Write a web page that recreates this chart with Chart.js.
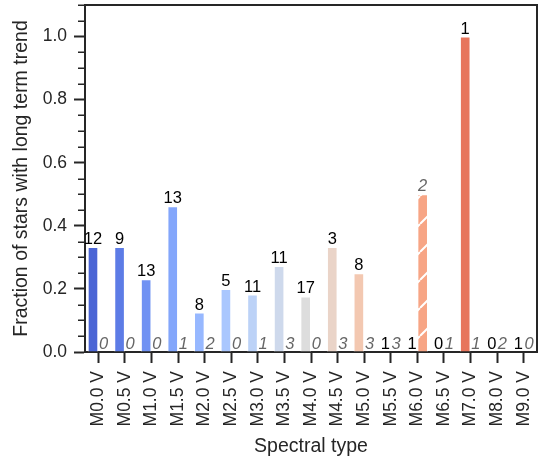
<!DOCTYPE html>
<html>
<head>
<meta charset="utf-8">
<script src="https://cdn.jsdelivr.net/npm/chart.js@4.4.0/dist/chart.umd.min.js"></script>
<style>
  html, body { margin: 0; padding: 0; background: #fff; }
</style>
</head>
<body>
<canvas id="grafico" width="544" height="459"></canvas>
<script>
const tipos = ['M0.0 V', 'M0.5 V', 'M1.0 V', 'M1.5 V', 'M2.0 V', 'M2.5 V', 'M3.0 V', 'M3.5 V', 'M4.0 V',
  'M4.5 V', 'M5.0 V', 'M5.5 V', 'M6.0 V', 'M6.5 V', 'M7.0 V', 'M8.0 V', 'M9.0 V'];
// fraccion con tendencia (barras llenas) y su numero de estrellas
const fraccion = [0.333, 0.333, 0.231, 0.462, 0.125, 0.2, 0.182, 0.273, 0.176, 0.333, 0.25, 0, 0, 0, 1.0, 0, 0];
const conteo = [12, 9, 13, 13, 8, 5, 11, 11, 17, 3, 8, 1, 1, 0, 1, 0, 1];
// segunda serie (barras rayadas, etiquetas grises)
const fraccionRayada = [0, 0, 0, 0, 0, 0, 0, 0, 0, 0, 0, 0, 0.5, 0, 0, 0, 0];
const conteoRayado = [0, 0, 0, 1, 2, 0, 1, 3, 0, 3, 3, 3, 2, 1, 1, 2, 0];
const colores = ['#4b65d5', '#5d7ce6', '#7092f3', '#83a6fb', '#97b8ff', '#aac7fe', '#bcd2f7', '#ced9ec', '#dddddd',
  '#ead4c8', '#f3c8b1', '#f7b89b', '#f7a585', '#f18e70', '#e7755c', '#da5948', '#c83936'];
const yTicks = [0, 0.2, 0.4, 0.6, 0.8, 1.0];
const yMenores = [0.05, 0.1, 0.15, 0.25, 0.3, 0.35, 0.45, 0.5, 0.55, 0.65, 0.7, 0.75, 0.85, 0.9, 0.95, 1.05, 1.1];

const fuente = '"Liberation Sans", Arial, sans-serif';
const tinta = '#262626';

function rayado(color) {
  const c = document.createElement('canvas');
  c.width = 28; c.height = 28;
  const g = c.getContext('2d');
  g.fillStyle = color;
  g.fillRect(0, 0, 28, 28);
  g.strokeStyle = '#fff';
  g.lineWidth = 2;
  g.beginPath();
  for (const k of [-28, 0, 28]) {
    g.moveTo(k, 28);
    g.lineTo(k + 28, 0);
  }
  g.stroke();
  return g.createPattern(c, 'repeat');
}

const etiquetas = {
  id: 'etiquetas',
  afterDatasetsDraw(chart) {
    const ctx = chart.ctx;
    ctx.save();
    ctx.textAlign = 'center';
    ctx.textBaseline = 'alphabetic';
    ctx.font = '16.5px ' + fuente;
    ctx.fillStyle = '#000';
    chart.getDatasetMeta(0).data.forEach((bar, i) => {
      ctx.fillText(conteo[i], bar.x, bar.y - 3);
    });
    ctx.font = 'italic 16.5px ' + fuente;
    ctx.fillStyle = '#666';
    chart.getDatasetMeta(1).data.forEach((bar, i) => {
      ctx.fillText(conteoRayado[i], bar.x, bar.y - 3);
    });
    ctx.restore();
  }
};

const marco = {
  id: 'marco',
  afterDraw(chart) {
    const ctx = chart.ctx;
    const a = chart.chartArea;
    const y = chart.scales.y;
    ctx.save();
    ctx.strokeStyle = tinta;
    // marcas menores del eje y
    ctx.lineWidth = 1.5;
    ctx.beginPath();
    yMenores.forEach(v => {
      const py = Math.round(y.getPixelForValue(v)) + 0.25;
      ctx.moveTo(a.left - 7, py);
      ctx.lineTo(a.left, py);
    });
    ctx.stroke();
    // bordes superior y derecho
    ctx.lineWidth = 2;
    ctx.beginPath();
    ctx.moveTo(a.left - 1, a.top);
    ctx.lineTo(a.right, a.top);
    ctx.lineTo(a.right, a.bottom + 1);
    ctx.stroke();
    ctx.restore();
  }
};

new Chart(document.getElementById('grafico'), {
  type: 'bar',
  data: {
    labels: tipos,
    datasets: [
      {
        data: fraccion,
        backgroundColor: colores,
        borderColor: '#fff',
        borderWidth: 1,
        categoryPercentage: 0.8,
        barPercentage: 1.0
      },
      {
        data: fraccionRayada,
        backgroundColor: colores.map(rayado),
        borderColor: '#fff',
        borderWidth: 1,
        categoryPercentage: 0.8,
        barPercentage: 1.0
      }
    ]
  },
  options: {
    responsive: false,
    animation: false,
    devicePixelRatio: 1,
    layout: { padding: { top: 5, right: 7, left: 0, bottom: 0 } },
    plugins: {
      legend: { display: false },
      tooltip: { enabled: false }
    },
    scales: {
      x: {
        offset: true,
        grid: { offset: false, drawOnChartArea: false, tickLength: 11, tickWidth: 2, tickColor: tinta },
        border: { color: tinta, width: 2 },
        ticks: { color: tinta, minRotation: 90, maxRotation: 90, padding: 8, font: { family: fuente, size: 17.5 } },
        title: { display: true, text: 'Spectral type', color: tinta, padding: { top: 0, bottom: 1 }, font: { family: fuente, size: 19.5 } },
        afterFit(scale) {
          scale.height = 107;
          scale.paddingLeft = 0;
          scale.paddingRight = 0;
        }
      },
      y: {
        min: 0,
        max: 1.1,
        afterBuildTicks(scale) { scale.ticks = yTicks.map(v => ({ value: v })); },
        grid: { drawOnChartArea: false, tickLength: 11, tickWidth: 2, tickColor: tinta },
        border: { color: tinta, width: 2 },
        ticks: { color: tinta, padding: 7, font: { family: fuente, size: 17.5 }, callback: v => Number(v).toFixed(1) },
        title: { display: true, text: 'Fraction of stars with long term trend', color: tinta, padding: { top: 10, bottom: 0 }, font: { family: fuente, size: 19.5 } },
        afterFit(scale) {
          scale.width = 85;
          scale.paddingTop = 0;
          scale.paddingBottom = 0;
        }
      }
    }
  },
  plugins: [etiquetas, marco]
});
</script>
</body>
</html>
